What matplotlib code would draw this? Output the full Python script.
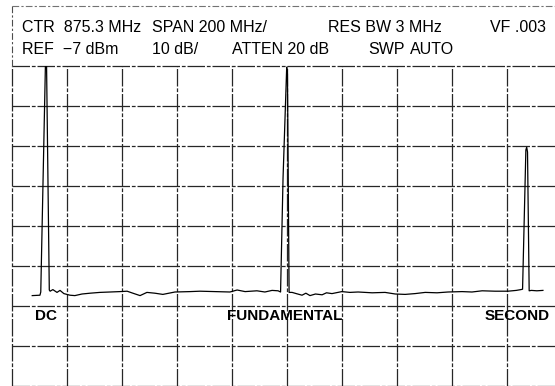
import numpy as np
import matplotlib.pyplot as plt
from matplotlib.lines import Line2D

plt.rcParams['font.family'] = ['Liberation Sans', 'DejaVu Sans']

# analyser settings (MHz, dBm)
ctr = 875.3
span_div = 200.0
ref = -7.0
db_div = 10.0

header_row1 = ['CTR  875.3 MHz', 'SPAN 200 MHz/', 'RES BW 3 MHz', 'VF .003']
header_row2 = ['REF  \u22127 dBm', '10 dB/', 'ATTEN 20 dB', 'SWP', 'AUTO']
peak_labels = ['DC', 'FUNDAMENTAL', 'SECOND']

# trace
freq = [-50, -22, -19, -2, 0, 2, 12,
        15, 25, 40, 51, 65, 87, 105, 131, 160, 196, 233, 269, 295, 316, 342,
        367, 396, 425, 469, 524, 560, 615, 669, 695, 724, 767, 796, 822, 844,
        853, 862, 875.3, 878, 884,
        895, 910, 931, 945, 960, 980, 1004, 1020, 1040, 1076, 1105, 1135, 1186,
        1233, 1270, 1306, 1342, 1379, 1422, 1462, 1513, 1549, 1586, 1633, 1680,
        1710, 1727,
        1733, 1745, 1748, 1751, 1757,
        1765, 1785, 1807]
level = [-64.4, -64.3, -63.5, -6.5, -5.8, -6.5, -63.0,
         -63.3, -62.9, -63.6, -63.1, -63.9, -64.3, -64.4, -64.0, -63.8, -63.6,
         -63.5, -63.4, -63.3, -63.8, -64.4, -63.6, -63.8, -64.1, -63.5, -63.4,
         -63.3, -63.4, -63.5, -63.0, -63.4, -63.2, -63.5, -63.1, -63.2,
         -63.5, -35.0, -7.3, -9.0, -63.6,
         -63.6, -63.9, -64.3, -63.8, -64.4, -64.0, -64.2, -63.7, -63.9, -63.4,
         -63.6, -63.5, -63.7, -63.6, -64.0, -64.1, -63.9, -63.6, -63.7, -63.5,
         -63.4, -63.5, -63.2, -63.3, -63.3, -63.1, -62.9,
         -62.8, -28.0, -27.3, -28.5, -63.2,
         -63.1, -63.2, -63.1]

x_lo = ctr - 5 * span_div
x_hi = ctr + 5 * span_div
y_hi = ref
y_lo = ref - 8 * db_div

fig = plt.figure(figsize=(5.55, 3.86), dpi=100)
W, H = 555, 386
ax = fig.add_axes([11.7 / W, (H - 386) / H, 550 / W, 320 / H])

ax.plot(freq, level, color='black', lw=0.9)

ax.set_xlim(x_lo, x_hi)
ax.set_ylim(y_lo, y_hi)
ax.set_xticks(np.arange(x_lo, x_hi + 1, span_div))
ax.set_yticks(np.arange(y_lo, y_hi + 1, db_div))
ax.tick_params(length=0, labelbottom=False, labelleft=False)
for s in ax.spines.values():
    s.set_visible(False)
ax.grid(True, color='0.15', lw=0.9, linestyle=(0, (14, 1.5, 3, 1.5)))
for gl in ax.get_xgridlines() + ax.get_ygridlines():
    gl.set_clip_on(False)

# header box lines
fig.add_artist(Line2D([11.7 / W, 1.0], [(H - 6) / H, (H - 6) / H], color='0.45', lw=0.8,
                      linestyle=(0, (6, 2, 2, 2))))
fig.add_artist(Line2D([11.7 / W, 11.7 / W], [(H - 6) / H, (H - 66) / H], color='0.3', lw=0.8,
                      linestyle=(0, (6, 2, 2, 2))))

def put(txt, px, py, size=11.5, **kw):
    fig.text(px / W, (H - py) / H, txt, ha='left', va='center', fontsize=size, **kw)

for t, px in zip(header_row1, [22, 152, 328, 490]):
    put(t, px, 28)
for t, px in zip(header_row2, [22, 152, 232, 368, 410]):
    put(t, px, 50)

for t, px in zip(peak_labels, [35, 227, 485]):
    put(t, px, 316, size=11, fontweight='bold')

fig.savefig('out.png', dpi=100)
